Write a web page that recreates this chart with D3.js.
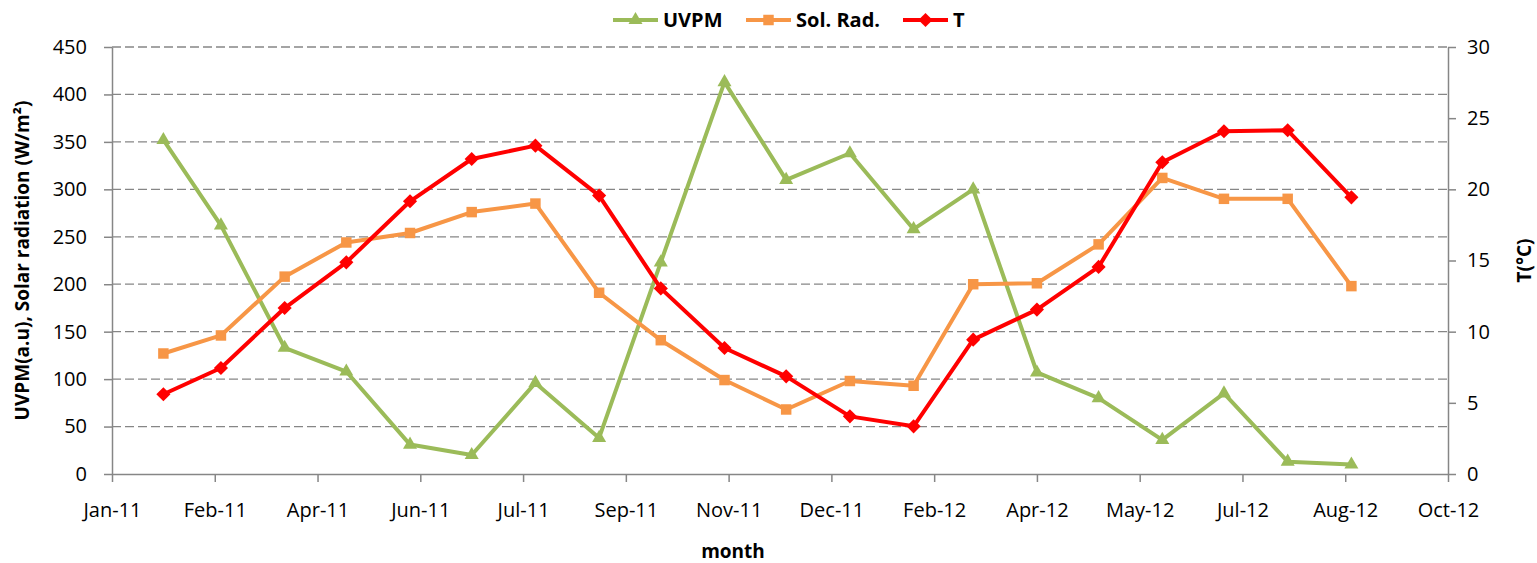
<!DOCTYPE html>
<html>
<head>
<meta charset="utf-8">
<script src="https://cdn.jsdelivr.net/npm/d3@7/dist/d3.min.js"></script>
<style>
  body { margin: 0; background: #fff; }
  text { font-family: "Open Sans", sans-serif; fill: #000; }
</style>
</head>
<body>
<script>
// monthly samples, first day of each month
var months = ["2011-02-01", "2011-03-01", "2011-04-01", "2011-05-01", "2011-06-01",
  "2011-07-01", "2011-08-01", "2011-09-01", "2011-10-01", "2011-11-01",
  "2011-12-01", "2012-01-01", "2012-02-01", "2012-03-01", "2012-04-01",
  "2012-05-01", "2012-06-01", "2012-07-01", "2012-08-01", "2012-09-01"];
var uvpm = [352, 262, 133, 108, 31, 20, 96, 38, 223, 413, 310, 338, 258, 300, 107, 80, 36, 85, 13, 10];
var solRad = [127, 146, 208, 244, 254, 276, 285, 191, 141, 99, 68, 98, 93, 200, 201, 242, 312, 290, 290, 198];
var temp = [5.6, 7.45, 11.66, 14.87, 19.16, 22.13, 23.07, 19.56, 13.04, 8.85, 6.86, 4.05, 3.35, 9.44, 11.55, 14.55, 21.9, 24.08, 24.15, 19.44];

// excel style date axis: starts 7 Jan 2011, major unit 50 days
var axisStart = "2011-01-07";
var tickStepDays = 50;
var tickLabels = ["Jan-11", "Feb-11", "Apr-11", "Jun-11", "Jul-11", "Sep-11", "Nov-11",
  "Dec-11", "Feb-12", "Apr-12", "May-12", "Jul-12", "Aug-12", "Oct-12"];
var leftTicks = [0, 50, 100, 150, 200, 250, 300, 350, 400, 450];
var rightTicks = [0, 5, 10, 15, 20, 25, 30];

var width = 1537, height = 563;
var plotLeft = 112, plotRight = 1448, plotTop = 47, plotBottom = 474;
var gray = "#868686";

var parse = d3.timeParse("%Y-%m-%d");
var t0 = parse(axisStart);
var tickDates = tickLabels.map(function(d, i){ return d3.timeDay.offset(t0, i * tickStepDays); });

var svg = d3.select("body").append("svg")
    .attr("width", width)
    .attr("height", height);

var x = d3.scaleTime()
    .domain([t0, tickDates[tickDates.length - 1]])
    .range([plotLeft, plotRight]);
var yL = d3.scaleLinear().domain([0, 450]).range([plotBottom, plotTop]);
var yR = d3.scaleLinear().domain([0, 30]).range([plotBottom, plotTop]);

// gridlines
svg.append("g").selectAll("line")
    .data(leftTicks.slice(1))
    .enter().append("line")
    .attr("x1", plotLeft).attr("x2", plotRight)
    .attr("y1", function(d){ return yL(d); })
    .attr("y2", function(d){ return yL(d); })
    .attr("stroke", gray)
    .attr("stroke-width", 1.3)
    .attr("stroke-dasharray", "9,4");

// axes
function styleAxis(g){
    g.selectAll("path.domain").attr("stroke", gray).attr("stroke-width", 1.5);
    g.selectAll(".tick line").attr("stroke", gray).attr("stroke-width", 1.5);
    g.selectAll(".tick text").style("font-size", "20px").style("font-family", "'Open Sans', sans-serif").attr("fill", "#000");
}

var xAxis = svg.append("g")
    .attr("transform", "translate(0," + plotBottom + ")")
    .call(d3.axisBottom(x)
        .tickValues(tickDates)
        .tickFormat(function(d, i){ return tickLabels[i]; })
        .tickSize(8).tickSizeOuter(0).tickPadding(21));
styleAxis(xAxis);

var yAxisL = svg.append("g")
    .attr("transform", "translate(" + plotLeft + ",0)")
    .call(d3.axisLeft(yL).tickValues(leftTicks).tickSize(8).tickSizeOuter(0).tickPadding(17));
styleAxis(yAxisL);

var yAxisR = svg.append("g")
    .attr("transform", "translate(" + plotRight + ",0)")
    .call(d3.axisRight(yR).tickValues(rightTicks).tickSize(8).tickSizeOuter(0).tickPadding(11));
styleAxis(yAxisR);

// series
var dates = months.map(parse);
var series = [
    {name: "UVPM", values: uvpm, y: yL, color: "#9BBB59", symbol: d3.symbolTriangle, size: 85, rotate: 0},
    {name: "Sol. Rad.", values: solRad, y: yL, color: "#F79646", symbol: d3.symbolSquare, size: 110, rotate: 0},
    {name: "T", values: temp, y: yR, color: "#FF0000", symbol: d3.symbolSquare, size: 100, rotate: 45}
];

series.forEach(function(s){
    var pts = s.values.map(function(v, i){ return [x(dates[i]), s.y(v)]; });
    svg.append("path")
        .datum(pts)
        .attr("fill", "none")
        .attr("stroke", s.color)
        .attr("stroke-width", 4)
        .attr("stroke-linejoin", "round")
        .attr("d", d3.line());
    svg.append("g").selectAll("path")
        .data(pts)
        .enter().append("path")
        .attr("transform", function(d){ return "translate(" + d[0] + "," + d[1] + ") rotate(" + s.rotate + ")"; })
        .attr("d", d3.symbol().type(s.symbol).size(s.size))
        .attr("fill", s.color);
});

// legend
var legendX = [613, 746, 903];
var legend = svg.append("g");
series.forEach(function(s, i){
    var g = legend.append("g").attr("transform", "translate(" + legendX[i] + ",20)");
    g.append("line").attr("x1", 0).attr("x2", 45).attr("stroke", s.color).attr("stroke-width", 4);
    g.append("path")
        .attr("transform", "translate(22.5,0) rotate(" + s.rotate + ")")
        .attr("d", d3.symbol().type(s.symbol).size(s.size))
        .attr("fill", s.color);
    g.append("text")
        .attr("x", 50).attr("dy", "0.36em")
        .style("font-size", "20px").style("font-weight", "bold")
        .text(s.name);
});

// axis titles
svg.append("text")
    .attr("transform", "translate(22," + ((plotTop + plotBottom) / 2) + ") rotate(-90)")
    .attr("text-anchor", "middle").attr("dy", "0.36em")
    .style("font-size", "19px").style("font-weight", "bold")
    .text("UVPM(a.u), Solar radiation (W/m²)");

svg.append("text")
    .attr("transform", "translate(1524," + ((plotTop + plotBottom) / 2) + ") rotate(-90)")
    .attr("text-anchor", "middle").attr("dy", "0.36em")
    .style("font-size", "19px").style("font-weight", "bold")
    .text("T(°C)");

svg.append("text")
    .attr("x", 733).attr("y", 551).attr("dy", "0.36em")
    .attr("text-anchor", "middle")
    .style("font-size", "19px").style("font-weight", "bold")
    .text("month");
</script>
</body>
</html>
